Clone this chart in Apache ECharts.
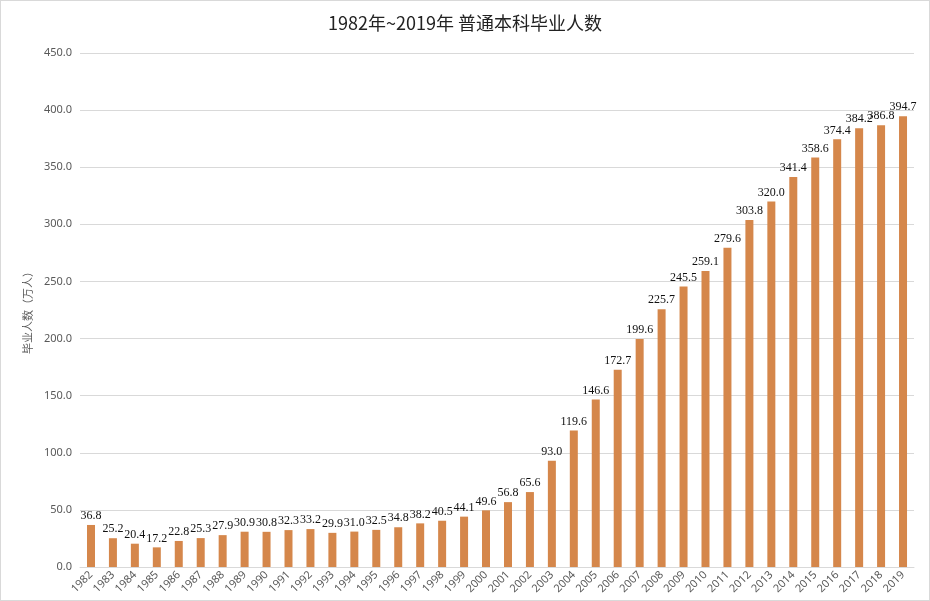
<!DOCTYPE html>
<html><head><meta charset="utf-8">
<script src="https://cdn.jsdelivr.net/npm/echarts@6/dist/echarts.min.js"></script>
<style>html,body{margin:0;padding:0;background:#fff}#c{width:928px;height:599px;border:1px solid #d9d9d9}</style>
</head><body><div id="c"></div>
<script>
const years = ['1982','1983','1984','1985','1986','1987','1988','1989','1990','1991','1992','1993','1994','1995','1996','1997','1998','1999','2000','2001','2002','2003','2004','2005','2006','2007','2008','2009','2010','2011','2012','2013','2014','2015','2016','2017','2018','2019'];
const graduates = [36.8,25.2,20.4,17.2,22.8,25.3,27.9,30.9,30.8,32.3,33.2,29.9,31.0,32.5,34.8,38.2,40.5,44.1,49.6,56.8,65.6,93.0,119.6,146.6,172.7,199.6,225.7,245.5,259.1,279.6,303.8,320.0,341.4,358.6,374.4,384.2,386.8,394.7];
const titleText = '1982年~2019年 普通本科毕业人数';
const yName = '毕业人数（万人）';

const chart = echarts.init(document.getElementById('c'));
chart.setOption({
  animation: false,
  title: {text: titleText, left: 'center', top: 8,
    textStyle: {fontFamily: 'Noto Sans CJK SC', fontWeight: 'normal', fontSize: 18, color: '#222'}},
  grid: {left: 79, right: 15, top: 52, bottom: 33, containLabel: false},
  xAxis: {type: 'category', data: years,
    axisLine: {lineStyle: {color: '#d9d9d9'}}, axisTick: {show: false},
    axisLabel: {rotate: 45, interval: 0, fontSize: 11, color: '#595959', fontFamily: 'Noto Sans', margin: 6}},
  yAxis: {type: 'value', min: 0, max: 450, interval: 50,
    name: yName, nameLocation: 'middle', nameGap: 42, nameRotate: 90,
    nameTextStyle: {fontFamily: 'Noto Sans CJK SC', fontSize: 11, color: '#595959'},
    axisLabel: {formatter: v => v.toFixed(1), fontSize: 11, color: '#595959', fontFamily: 'Noto Sans', margin: 8},
    splitLine: {lineStyle: {color: '#d9d9d9'}}, axisLine: {show: false}, axisTick: {show: false}},
  series: [{type: 'bar', data: graduates, barWidth: 8,
    itemStyle: {color: '#D5874B'},
    label: {show: true, position: 'top', distance: 3, formatter: p => p.value.toFixed(1),
      fontFamily: 'Liberation Serif', fontSize: 12, color: '#111'}}]
});
</script></body></html>
